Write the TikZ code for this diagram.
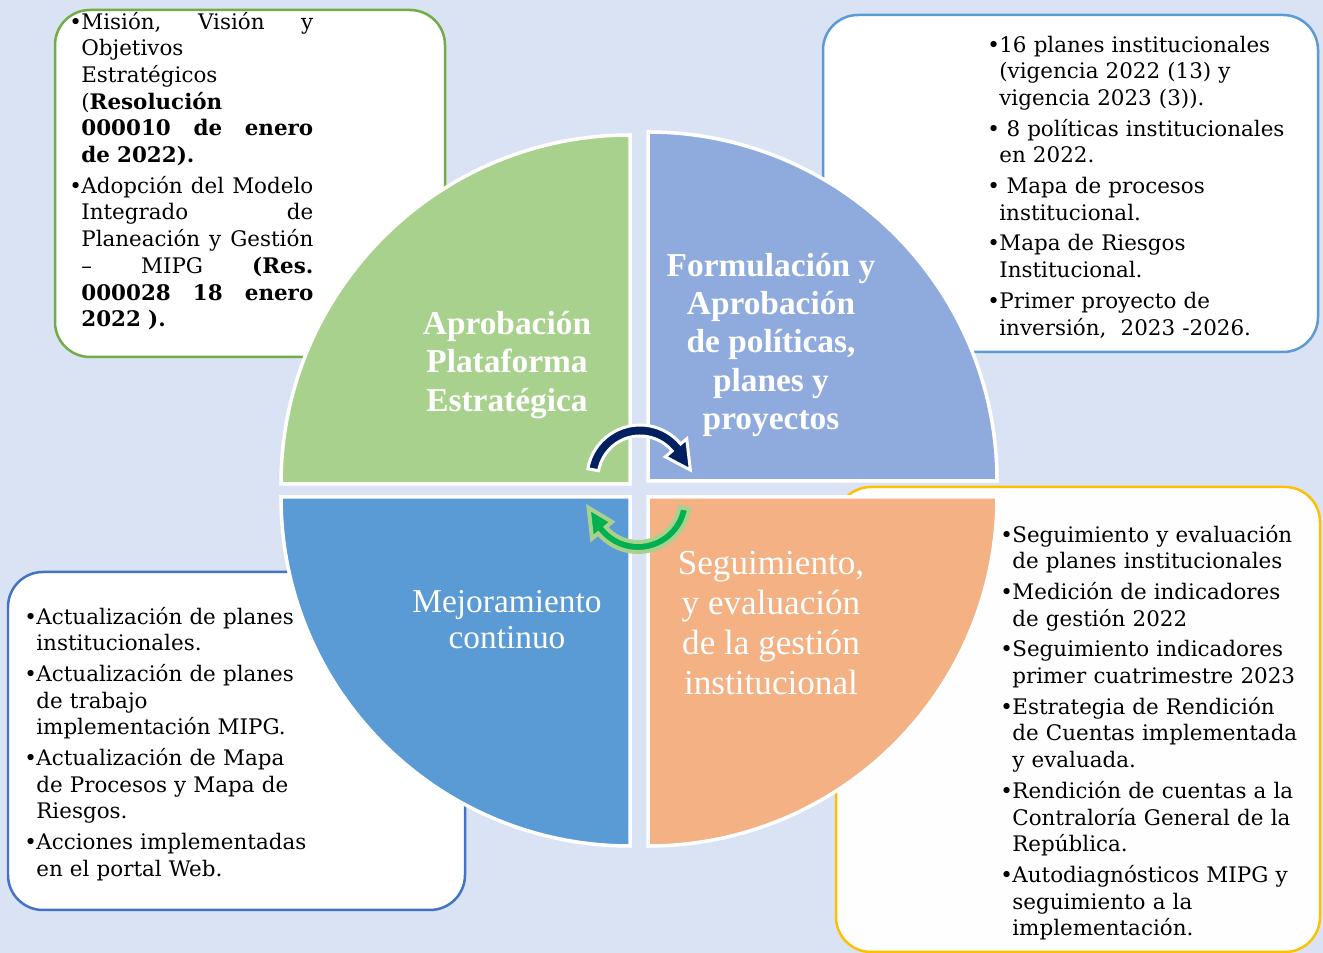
\documentclass[tikz,border=0pt]{standalone}
\usepackage{fontspec}
\setmainfont{DejaVu Serif}
\newfontfamily\titlefont{Liberation Serif}
\usetikzlibrary{positioning}
\definecolor{bgblue}{HTML}{DAE3F3}
\definecolor{quadgreen}{HTML}{A9D18E}
\definecolor{quadblue}{HTML}{8FAADC}
\definecolor{quadsteel}{HTML}{5B9BD5}
\definecolor{quadorange}{HTML}{F4B183}
\definecolor{linegreen}{HTML}{70AD47}
\definecolor{lineblue}{HTML}{5B9BD5}
\definecolor{linedark}{HTML}{4472C4}
\definecolor{linegold}{HTML}{FFC000}
\definecolor{arrownavy}{HTML}{002060}
\definecolor{arrowgreen}{HTML}{00B050}
\newcommand\itm{\par\setlength\parskip{0.08cm}\noindent\hangindent=0.24cm\hangafter=1\makebox[0.24cm][l]{\textbullet}}

\begin{document}
\begin{tikzpicture}[x=0.02cm,y=0.02cm]
  \tikzset{panel/.style = {line width=0.05cm, rounded corners=0.7cm, fill=white}}
  \tikzset{quadrant/.style = {draw=white, line width=0.07cm}}
  \tikzset{listtext/.style = {anchor=north west, inner sep=0pt, text width=#1, font=\fontsize{12.2}{15.2}\selectfont}}
  \tikzset{bigtitle/.style = {text=white, align=center, font=\titlefont\bfseries\fontsize{19}{21.9}\selectfont}}
  \tikzset{plaintitle/.style = {text=white, align=center, font=\titlefont\fontsize{19}{20.4}\selectfont}}

  \fill[bgblue, use as bounding box] (0,0) rectangle (1323,953);

  \foreach \col/\from/\to in {linegreen/{(55,943)}/{(445,596)}, lineblue/{(823,938)}/{(1318,601)}, linedark/{(8,381)}/{(465,43)}}
    \path[panel, draw=\col] \from rectangle \to;
  \path[panel, draw=linegold, fill=white!98!bgblue] (836,466) rectangle (1320,1);

  % the four quarters
  \path[quadrant, fill=quadgreen] (630,469) -- ++(-349,0) arc[start angle=180, end angle=90, radius=349] -- cycle;
  \path[quadrant, fill=quadblue] (648,472) -- ++(0,349) arc[start angle=90, end angle=0, radius=349] -- cycle;
  \path[quadrant, fill=quadsteel] (630,456) -- ++(0,-349) arc[start angle=270, end angle=180, radius=349] -- cycle;
  \path[quadrant, fill=quadorange] (648,456) -- ++(349,0) arc[start angle=0, end angle=-90, radius=349] -- cycle;

  \node[bigtitle] (plataforma) at (507,588) {Aprobación\\Plataforma\\Estratégica};
  \node[bigtitle] (formulacion) at (771,608) {Formulación y\\Aprobación\\de políticas,\\planes y\\proyectos};
  \node[plaintitle] (mejoramiento) at (507,333) {Mejoramiento\\continuo};
  \node[plaintitle, font=\titlefont\fontsize{20}{22.7}\selectfont] (seguimiento) at (771,330) {Seguimiento,\\y evaluación\\de la gestión\\institucional};

  % turning arrows
  \begin{scope}[shift={(640,475)}]
    \filldraw[fill=arrownavy, draw=white, line width=0.06cm] (170:53) arc[start angle=170, end angle=40, radius=53] -- (40:61) -- (9:51) -- (40:33) -- (40:42) arc[start angle=40, end angle=170, radius=42] -- cycle;
  \end{scope}
  \begin{scope}[shift={(638,453)}]
    \filldraw[fill=arrowgreen, draw=quadgreen, line width=0.08cm] (-10:52) arc[start angle=-10, end angle=-140, radius=52] -- (-140:60) -- (-171:50) -- (-140:34) -- (-140:42) arc[start angle=-140, end angle=-10, radius=42] -- cycle;
  \end{scope}

  \node[listtext=4.88cm] (plataformalist) at (69,955) {%
    \itm Misión,\hfill Visión\hfill y\newline Objetivos\newline Estratégicos\newline (\textbf{Resolución}\newline \textbf{000010\hfill de\hfill enero}\newline \textbf{de 2022).}
    \itm Adopción~\hfill del~\hfill Modelo\newline Integrado\hfill de\newline Planeación~\hfill y~\hfill Gestión\newline –\hfill MIPG\hfill \textbf{(Res.}\newline \textbf{000028\hfill 18\hfill enero}\newline \textbf{2022 ).}\par};
  \node[listtext=7cm] (formulacionlist) at (987,932) {%
    \itm 16 planes institucionales\newline (vigencia 2022 (13) y\newline vigencia 2023 (3)).
    \itm\ 8 políticas institucionales\newline en 2022.
    \itm\ Mapa de procesos\newline institucional.
    \itm Mapa de Riesgos\newline Institucional.
    \itm Primer proyecto de\newline inversión,\ \ 2023 -2026.\par};
  \node[listtext=8.6cm] (mejoramientolist) at (24,360) {%
    \itm Actualización de planes\newline institucionales.
    \itm Actualización de planes\newline de trabajo\newline implementación MIPG.
    \itm Actualización de Mapa\newline de Procesos y Mapa de\newline Riesgos.
    \itm Acciones implementadas\newline en el portal Web.\par};
  \node[listtext=7cm] (seguimientolist) at (1000,442) {%
    \itm Seguimiento y evaluación\newline de planes institucionales
    \itm Medición de indicadores\newline de gestión 2022
    \itm Seguimiento indicadores\newline primer cuatrimestre 2023
    \itm Estrategia de Rendición\newline de Cuentas implementada\newline y evaluada.
    \itm Rendición de cuentas a la\newline Contraloría General de la\newline República.
    \itm Autodiagnósticos MIPG y\newline seguimiento a la\newline implementación.\par};
\end{tikzpicture}
\end{document}
